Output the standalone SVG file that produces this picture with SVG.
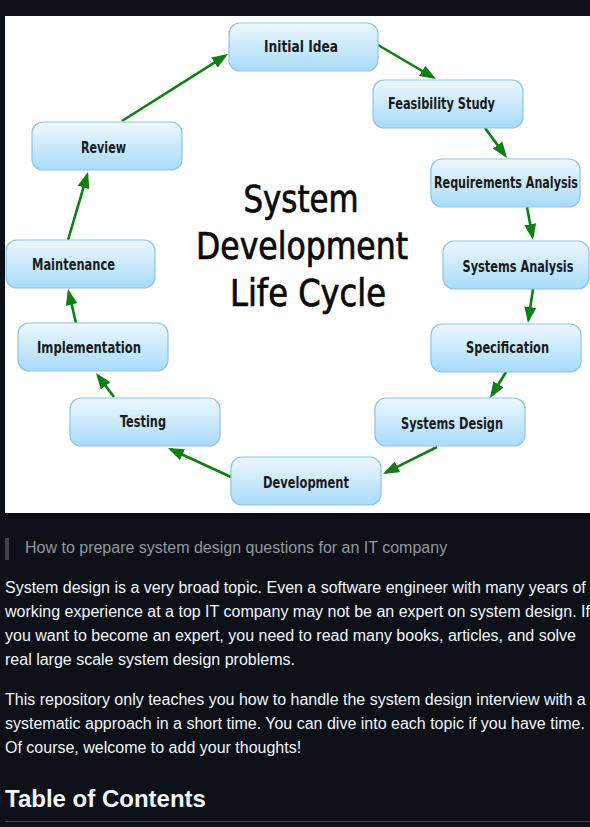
<svg xmlns="http://www.w3.org/2000/svg" width="590" height="827" viewBox="0 0 590 827">
  <defs>
    <linearGradient id="boxfill" x1="0" y1="0" x2="0" y2="1">
      <stop offset="0" stop-color="#eef8ff"/>
      <stop offset="1" stop-color="#a8dbfa"/>
    </linearGradient>
    <marker id="ah" markerUnits="userSpaceOnUse" markerWidth="16" markerHeight="12" refX="13" refY="6" orient="auto">
      <path d="M0,0 L16,6 L0,12 z" fill="#0e7f10"/>
    </marker>
    <style>
      .box { fill: url(#boxfill); stroke: #8ec3ea; stroke-width: 1.2; }
      .lbl { font-family: "DejaVu Sans Condensed", "DejaVu Sans", sans-serif; font-weight: bold; font-size: 15px; fill: #1a1a1a; text-anchor: middle; }
      .title { font-family: "DejaVu Sans Condensed", "DejaVu Sans", sans-serif; font-size: 37px; fill: #0a0a0a; stroke: #0a0a0a; stroke-width: 0.7; text-anchor: middle; }
      .conn line { stroke: #0e7f10; stroke-width: 2.6; marker-end: url(#ah); }
      .body { font-family: "Liberation Sans", Arial, sans-serif; font-size: 16px; fill: #f0f6fc; }
      .quote { font-family: "Liberation Sans", Arial, sans-serif; font-size: 16px; fill: #9198a1; }
      .h2 { font-family: "Liberation Sans", Arial, sans-serif; font-size: 24px; font-weight: bold; fill: #f0f6fc; }
    </style>
  </defs>
  <rect x="0" y="0" width="590" height="827" fill="#0d1117"/>
  <rect x="5" y="16" width="585" height="497" fill="#ffffff"/>

  <g id="title">
    <text class="title" x="301" y="212" textLength="115" lengthAdjust="spacingAndGlyphs">System</text>
    <text class="title" x="302" y="259" textLength="212" lengthAdjust="spacingAndGlyphs">Development</text>
    <text class="title" x="308" y="306" textLength="156" lengthAdjust="spacingAndGlyphs">Life Cycle</text>
  </g>

  <g class="conn" id="connectors">
    <line x1="122" y1="121" x2="225.5" y2="55.6"/>
    <line x1="378" y1="45" x2="433.4" y2="77.5"/>
    <line x1="485" y1="128" x2="505.2" y2="155.6"/>
    <line x1="527" y1="207" x2="532.5" y2="237"/>
    <line x1="533" y1="289" x2="528.4" y2="320"/>
    <line x1="506" y1="372" x2="491.6" y2="395.4"/>
    <line x1="437" y1="447" x2="385.7" y2="472.7"/>
    <line x1="231" y1="477" x2="170.7" y2="449.3"/>
    <line x1="114" y1="397" x2="97.8" y2="375.4"/>
    <line x1="76" y1="323" x2="68.7" y2="291.9"/>
    <line x1="68" y1="240" x2="87.2" y2="174.9"/>
  </g>

  <g id="initial-idea">
    <rect class="box" x="229" y="23" width="149" height="48" rx="11"/>
    <text class="lbl" x="301" y="52" textLength="74" lengthAdjust="spacingAndGlyphs">Initial Idea</text>
  </g>
  <g id="feasibility-study">
    <rect class="box" x="373" y="80" width="150" height="48" rx="11"/>
    <text class="lbl" x="441.5" y="109" textLength="107" lengthAdjust="spacingAndGlyphs">Feasibility Study</text>
  </g>
  <g id="requirements-analysis">
    <rect class="box" x="431" y="159" width="149" height="48" rx="11"/>
    <text class="lbl" x="506" y="188" textLength="144" lengthAdjust="spacingAndGlyphs">Requirements Analysis</text>
  </g>
  <g id="systems-analysis">
    <rect class="box" x="443" y="241" width="146" height="48" rx="11"/>
    <text class="lbl" x="518" y="272" textLength="111" lengthAdjust="spacingAndGlyphs">Systems Analysis</text>
  </g>
  <g id="specification">
    <rect class="box" x="431" y="324" width="150" height="48" rx="11"/>
    <text class="lbl" x="507.5" y="353" textLength="83" lengthAdjust="spacingAndGlyphs">Specification</text>
  </g>
  <g id="systems-design">
    <rect class="box" x="375" y="398" width="150" height="48" rx="11"/>
    <text class="lbl" x="452" y="429" textLength="102" lengthAdjust="spacingAndGlyphs">Systems Design</text>
  </g>
  <g id="development">
    <rect class="box" x="231" y="457" width="150" height="48" rx="11"/>
    <text class="lbl" x="306" y="488" textLength="86" lengthAdjust="spacingAndGlyphs">Development</text>
  </g>
  <g id="testing">
    <rect class="box" x="70" y="398" width="150" height="48" rx="11"/>
    <text class="lbl" x="143" y="427" textLength="46" lengthAdjust="spacingAndGlyphs">Testing</text>
  </g>
  <g id="implementation">
    <rect class="box" x="18" y="323" width="150" height="48" rx="11"/>
    <text class="lbl" x="89" y="353" textLength="104" lengthAdjust="spacingAndGlyphs">Implementation</text>
  </g>
  <g id="maintenance">
    <rect class="box" x="6" y="240" width="149" height="48" rx="11"/>
    <text class="lbl" x="73.5" y="270" textLength="83" lengthAdjust="spacingAndGlyphs">Maintenance</text>
  </g>
  <g id="review">
    <rect class="box" x="32" y="122" width="150" height="48" rx="11"/>
    <text class="lbl" x="103.5" y="153" textLength="45" lengthAdjust="spacingAndGlyphs">Review</text>
  </g>

  <g id="page-text">
    <rect x="5" y="538" width="4" height="22" fill="#3d444d"/>
    <text class="quote" x="25" y="553">How to prepare system design questions for an IT company</text>
    <text class="body" x="5" y="593">System design is a very broad topic. Even a software engineer with many years of</text>
    <text class="body" x="5" y="617">working experience at a top IT company may not be an expert on system design. If</text>
    <text class="body" x="5" y="641">you want to become an expert, you need to read many books, articles, and solve</text>
    <text class="body" x="5" y="665">real large scale system design problems.</text>
    <text class="body" x="5" y="705">This repository only teaches you how to handle the system design interview with a</text>
    <text class="body" x="5" y="729">systematic approach in a short time. You can dive into each topic if you have time.</text>
    <text class="body" x="5" y="753">Of course, welcome to add your thoughts!</text>
    <text class="h2" x="5" y="807">Table of Contents</text>
    <rect x="5" y="821" width="585" height="1" fill="#3d444d"/>
  </g>
</svg>
